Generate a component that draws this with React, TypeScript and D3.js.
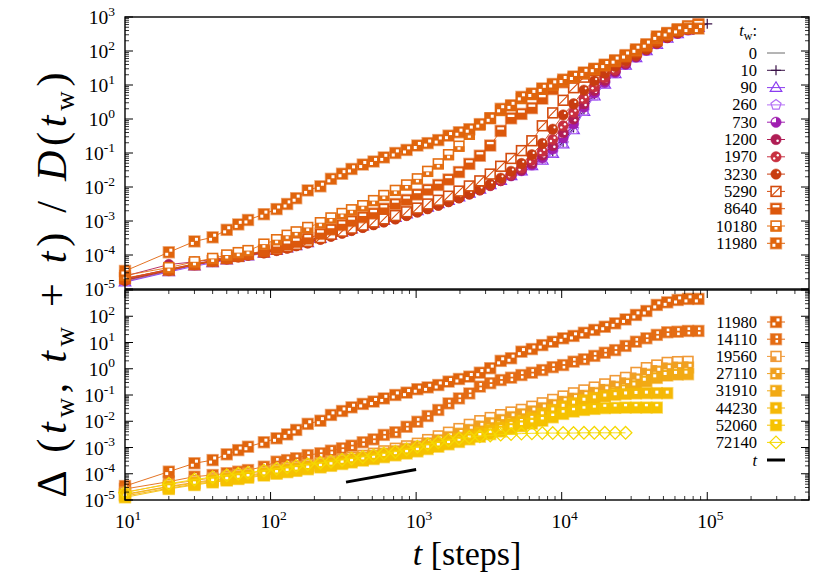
import React from "react";
import * as d3 from "d3";

// ---------- data ----------
const T_STEPS = [10, 20, 30, 40, 50, 60, 70, 90, 110, 130, 150, 180, 220, 260, 310, 360, 430, 510, 600, 720, 860, 1020, 1200, 1420, 1670, 1970, 2320, 2740, 3230, 3810, 4490, 5290, 6240, 7360, 8680, 10230, 12060, 14220, 16760, 19770, 23300, 27470, 32390, 38190, 45030, 53090, 62590, 73790, 87000, 99990];

// log10 of Delta/D, top panel
const LOG_TW0 = [-4.78, -4.48, -4.30, -4.20, -4.12, -4.05, -4.00, -3.92, -3.84, -3.76,
  -3.69, -3.60, -3.47, -3.37, -3.28, -3.20, -3.11, -3.03, -2.95, -2.86,
  -2.76, -2.66, -2.56, -2.46, -2.36, -2.26, -2.15, -2.03, -1.90, -1.77,
  -1.63, -1.49, -1.35, -1.19, -0.98, -0.70, -0.28, 0.26, 0.70, 1.05,
  1.35, 1.60, 1.82, 2.02, 2.21, 2.39, 2.52, 2.62, 2.71, 2.79];
const LOG_TW10 = [-4.74, -4.46, -4.28, -4.19, -4.10, -4.04, -3.99, -3.90, -3.83, -3.75,
  -3.68, -3.59, -3.46, -3.36, -3.27, -3.19, -3.10, -3.02, -2.94, -2.85,
  -2.75, -2.65, -2.55, -2.45, -2.35, -2.25, -2.14, -2.02, -1.89, -1.76,
  -1.62, -1.48, -1.34, -1.17, -0.96, -0.68, -0.25, 0.28, 0.72, 1.06,
  1.36, 1.61, 1.83, 2.03, 2.22, 2.40, 2.53, 2.63, 2.72, 2.80];
const LOG_TW90 = [-4.80, -4.50, -4.33, -4.23, -4.15, -4.08, -4.03, -3.95, -3.87, -3.80,
  -3.73, -3.64, -3.52, -3.42, -3.33, -3.24, -3.15, -3.07, -2.99, -2.90,
  -2.80, -2.70, -2.60, -2.50, -2.40, -2.30, -2.19, -2.07, -1.94, -1.81,
  -1.67, -1.53, -1.38, -1.22, -1.02, -0.74, -0.32, 0.22, 0.67, 1.02,
  1.33, 1.58, 1.80, 2.00, 2.19, 2.37, 2.50, 2.60, 2.69];
const LOG_TW260 = [-4.76, -4.47, -4.31, -4.21, -4.13, -4.06, -4.01, -3.93, -3.85, -3.78,
  -3.71, -3.62, -3.50, -3.40, -3.31, -3.22, -3.13, -3.05, -2.97, -2.88,
  -2.78, -2.68, -2.58, -2.48, -2.38, -2.28, -2.17, -2.05, -1.92, -1.79,
  -1.65, -1.51, -1.36, -1.20, -0.99, -0.71, -0.30, 0.24, 0.69, 1.04,
  1.34, 1.59, 1.81, 2.01, 2.20, 2.38, 2.51, 2.61, 2.70];
const LOG_TW730 = [-4.70, -4.42, -4.27, -4.17, -4.10, -4.03, -3.98, -3.91, -3.84, -3.77,
  -3.70, -3.62, -3.50, -3.41, -3.32, -3.24, -3.15, -3.07, -2.99, -2.90,
  -2.80, -2.70, -2.60, -2.50, -2.40, -2.30, -2.19, -2.07, -1.94, -1.81,
  -1.67, -1.52, -1.35, -1.14, -0.88, -0.55, -0.14, 0.35, 0.76, 1.08,
  1.37, 1.61, 1.82, 2.02, 2.21, 2.39, 2.52, 2.62, 2.70];
const LOG_TW1200 = [-4.62, -4.28, -4.20, -4.13, -4.07, -4.02, -3.97, -3.91, -3.84, -3.78,
  -3.71, -3.63, -3.52, -3.43, -3.34, -3.26, -3.17, -3.09, -3.01, -2.92,
  -2.82, -2.72, -2.62, -2.52, -2.42, -2.31, -2.20, -2.08, -1.95, -1.81,
  -1.66, -1.50, -1.30, -1.06, -0.78, -0.40, 0.00, 0.45, 0.84, 1.14,
  1.41, 1.63, 1.84, 2.04, 2.23, 2.40, 2.53, 2.63, 2.71];
const LOG_TW1970 = [-4.72, -4.44, -4.28, -4.18, -4.11, -4.05, -4.00, -3.93, -3.86, -3.79,
  -3.72, -3.64, -3.53, -3.44, -3.35, -3.27, -3.18, -3.10, -3.02, -2.93,
  -2.83, -2.73, -2.63, -2.53, -2.43, -2.32, -2.21, -2.09, -1.96, -1.81,
  -1.64, -1.44, -1.21, -0.95, -0.60, -0.20, 0.20, 0.60, 0.95, 1.22,
  1.45, 1.66, 1.86, 2.05, 2.24, 2.41, 2.54, 2.64, 2.72];
const LOG_TW3230 = [-4.75, -4.46, -4.29, -4.19, -4.12, -4.06, -4.01, -3.94, -3.87, -3.80,
  -3.73, -3.65, -3.54, -3.45, -3.36, -3.28, -3.19, -3.11, -3.03, -2.94,
  -2.84, -2.74, -2.64, -2.54, -2.43, -2.32, -2.20, -2.07, -1.92, -1.74,
  -1.54, -1.31, -1.05, -0.72, -0.30, 0.12, 0.45, 0.85, 1.12, 1.35,
  1.55, 1.72, 1.89, 2.06, 2.24, 2.41, 2.54, 2.64, 2.73];
const LOG_TW5290 = [-4.70, -4.42, -4.26, -4.16, -4.09, -4.03, -3.98, -3.91, -3.83, -3.76,
  -3.69, -3.60, -3.49, -3.39, -3.30, -3.21, -3.12, -3.03, -2.94, -2.84,
  -2.73, -2.62, -2.50, -2.39, -2.27, -2.12, -1.97, -1.82, -1.62, -1.39,
  -1.16, -0.93, -0.64, -0.20, 0.18, 0.55, 0.92, 1.23, 1.42, 1.56,
  1.69, 1.83, 1.98, 2.13, 2.30, 2.46, 2.59, 2.69, 2.77];
const LOG_TW8640 = [-4.68, -4.44, -4.28, -4.18, -4.10, -4.03, -3.97, -3.88, -3.79, -3.70,
  -3.62, -3.52, -3.38, -3.25, -3.12, -3.00, -2.89, -2.78, -2.64, -2.50,
  -2.38, -2.22, -2.08, -1.94, -1.78, -1.56, -1.32, -1.08, -0.78, -0.35,
  0.02, 0.15, 0.32, 0.60, 0.88, 1.08, 1.21, 1.33, 1.45, 1.57,
  1.70, 1.84, 2.00, 2.15, 2.33, 2.50, 2.63, 2.73, 2.79];
const LOG_TW10180 = [-4.60, -4.37, -4.20, -4.10, -4.00, -3.93, -3.87, -3.68, -3.55, -3.42,
  -3.32, -3.19, -3.05, -2.91, -2.78, -2.67, -2.55, -2.40, -2.25, -2.10,
  -1.94, -1.76, -1.54, -1.32, -1.05, -0.80, -0.45, -0.17, 0.03, 0.25,
  0.40, 0.60, 0.72, 0.88, 1.00, 1.12, 1.23, 1.35, 1.46, 1.58,
  1.71, 1.86, 2.02, 2.18, 2.38, 2.52, 2.64, 2.72, 2.76];
const LOG_TW11980 = [-4.47, -3.92, -3.60, -3.48, -3.26, -3.10, -2.97, -2.80, -2.65, -2.50,
  -2.33, -2.10, -1.98, -1.76, -1.61, -1.47, -1.34, -1.25, -1.13, -1.00,
  -0.91, -0.78, -0.71, -0.62, -0.49, -0.39, -0.30, -0.15, 0.02, 0.30,
  0.40, 0.65, 0.75, 0.90, 1.03, 1.16, 1.25, 1.37, 1.48, 1.60,
  1.73, 1.88, 2.05, 2.20, 2.43, 2.53, 2.62, 2.66, 2.66];

// bottom panel
const LOG_TW14110 = [-4.58, -4.30, -4.11, -4.05, -3.98, -3.92, -3.86, -3.73, -3.54, -3.48,
  -3.41, -3.29, -3.22, -3.12, -3.03, -2.93, -2.80, -2.69, -2.52, -2.42,
  -2.21, -2.02, -1.80, -1.57, -1.32, -1.13, -0.94, -0.68, -0.55, -0.43,
  -0.34, -0.24, -0.15, -0.05, 0.06, 0.14, 0.27, 0.36, 0.49, 0.61,
  0.71, 0.87, 1.03, 1.16, 1.29, 1.39, 1.41, 1.44, 1.44];
const LOG_TW19560 = [-4.70, -4.40, -4.26, -4.16, -4.09, -4.03, -3.98, -3.90, -3.83, -3.77,
  -3.72, -3.65, -3.58, -3.51, -3.44, -3.37, -3.30, -3.22, -3.13, -3.03,
  -2.94, -2.84, -2.70, -2.56, -2.42, -2.28, -2.12, -1.98, -1.86, -1.75,
  -1.65, -1.55, -1.43, -1.30, -1.17, -1.04, -0.92, -0.81, -0.70, -0.58,
  -0.45, -0.33, -0.14, 0.04, 0.14, 0.24, 0.27, 0.28];
const LOG_TW27110 = [-4.78, -4.48, -4.33, -4.23, -4.16, -4.10, -4.05, -3.97, -3.90, -3.84,
  -3.79, -3.72, -3.65, -3.58, -3.51, -3.45, -3.38, -3.31, -3.23, -3.14,
  -3.05, -2.96, -2.84, -2.72, -2.60, -2.47, -2.33, -2.20, -2.07, -1.95,
  -1.84, -1.73, -1.62, -1.50, -1.38, -1.26, -1.14, -1.03, -0.92, -0.81,
  -0.69, -0.57, -0.40, -0.22, -0.10, 0.00, 0.04, 0.05];
const LOG_TW31910 = [-4.85, -4.55, -4.40, -4.30, -4.23, -4.17, -4.12, -4.04, -3.97, -3.91,
  -3.86, -3.79, -3.72, -3.65, -3.58, -3.52, -3.45, -3.38, -3.31, -3.23,
  -3.15, -3.07, -2.97, -2.86, -2.75, -2.63, -2.51, -2.39, -2.27, -2.15,
  -2.04, -1.93, -1.82, -1.71, -1.60, -1.48, -1.36, -1.25, -1.14, -1.03,
  -0.92, -0.81, -0.66, -0.48, -0.35, -0.26, -0.22, -0.21];
const LOG_TW44230 = [-4.80, -4.50, -4.36, -4.26, -4.19, -4.13, -4.08, -4.00, -3.93, -3.87,
  -3.82, -3.76, -3.69, -3.63, -3.56, -3.50, -3.43, -3.37, -3.30, -3.22,
  -3.14, -3.06, -2.97, -2.88, -2.78, -2.68, -2.57, -2.46, -2.35, -2.24,
  -2.12, -2.01, -1.89, -1.72, -1.57, -1.43, -1.31, -1.20, -1.11, -1.04,
  -0.99, -0.96, -0.94, -0.93, -0.93, -0.93];
const LOG_TW52060 = [-4.90, -4.58, -4.43, -4.33, -4.26, -4.20, -4.15, -4.07, -4.00, -3.94,
  -3.89, -3.83, -3.76, -3.70, -3.63, -3.57, -3.50, -3.44, -3.37, -3.30,
  -3.23, -3.15, -3.06, -2.97, -2.88, -2.79, -2.69, -2.59, -2.49, -2.39,
  -2.29, -2.19, -2.09, -1.98, -1.85, -1.72, -1.63, -1.57, -1.53, -1.50,
  -1.49, -1.48, -1.48, -1.48, -1.48];
const LOG_TW72140 = [-4.72, -4.38, -4.22, -4.13, -4.06, -4.00, -3.96, -3.88, -3.81, -3.75,
  -3.70, -3.64, -3.58, -3.53, -3.47, -3.42, -3.36, -3.30, -3.23, -3.16,
  -3.07, -2.97, -2.88, -2.80, -2.72, -2.66, -2.61, -2.57, -2.54, -2.51,
  -2.49, -2.47, -2.46, -2.45, -2.45, -2.45, -2.45, -2.44, -2.44, -2.44,
  -2.44, -2.44];

const REF_T = [330, 1000];
const REF_V = [4.8e-5, 1.45e-4];

const TOP_LABELS = ["0", "10", "90", "260", "730", "1200", "1970", "3230", "5290", "8640", "10180", "11980"];
const TOP_DATA = [LOG_TW0, LOG_TW10, LOG_TW90, LOG_TW260, LOG_TW730, LOG_TW1200, LOG_TW1970, LOG_TW3230, LOG_TW5290, LOG_TW8640, LOG_TW10180, LOG_TW11980];
const BOT_LABELS = ["11980", "14110", "19560", "27110", "31910", "44230", "52060", "72140"];
const BOT_DATA = [LOG_TW11980, LOG_TW14110, LOG_TW19560, LOG_TW27110, LOG_TW31910, LOG_TW44230, LOG_TW52060, LOG_TW72140];

const X_TICK_EXP = [1, 2, 3, 4, 5];
const Y_TICK_EXP_TOP = [3, 2, 1, 0, -1, -2, -3, -4, -5];
const Y_TICK_EXP_BOT = [2, 1, 0, -1, -2, -3, -4, -5];

// ---------- styles ----------
const TOP_STYLE = [
  { c: "#6a6a6a", m: "none" },
  { c: "#3a1248", m: "plus" },
  { c: "#8a3cf0", m: "tri" },
  { c: "#b46ef5", m: "pent" },
  { c: "#a01eb0", m: "circA" },
  { c: "#b01e55", m: "circB" },
  { c: "#c83040", m: "circC" },
  { c: "#c83c10", m: "circD" },
  { c: "#d44c0e", m: "sqLine" },
  { c: "#dc580c", m: "sqBar" },
  { c: "#e46e12", m: "sqHalf" },
  { c: "#e0640c", m: "sqDots" },
];
const BOT_STYLE = [
  { c: "#e0640c", m: "sqDots" },
  { c: "#e46c14", m: "sqV" },
  { c: "#f09a38", m: "sqCorner" },
  { c: "#f0a020", m: "sqDots" },
  { c: "#f2aa14", m: "sqD1" },
  { c: "#f5b806", m: "sqD2" },
  { c: "#f6c200", m: "sqD3" },
  { c: "#f5d800", m: "diam" },
];

const FONT = "Liberation Serif, Times New Roman, Tinos, serif";

function Mark({ k, x, y, c }: { k: string; x: number; y: number; c: string }) {
  const s = 5.4;
  const sqBase = (fill: string) => (
    <rect x={x - s} y={y - s} width={2 * s} height={2 * s} fill={fill} stroke={c} strokeOpacity={0.55} strokeWidth={1.6} />
  );
  const sqOpen = () => (
    <rect x={x - s + 0.5} y={y - s + 0.5} width={2 * s - 1} height={2 * s - 1} fill="#fff" stroke={c} strokeWidth={1.6} />
  );
  const wr = (dx: number, dy: number, w: number, h: number) => (
    <rect x={x + dx} y={y + dy} width={w} height={h} fill="#fff" />
  );
  const r = 5.2;
  switch (k) {
    case "none":
      return null;
    case "plus":
      return <path d={`M${x - 5},${y}H${x + 5}M${x},${y - 5}V${y + 5}`} stroke={c} strokeWidth={1.2} />;
    case "tri": {
      const h = 5.8;
      return <path d={`M${x},${y - h}L${x + h},${y + h * 0.65}L${x - h},${y + h * 0.65}Z`} fill="none" stroke={c} strokeWidth={1.2} />;
    }
    case "pent": {
      const pts = d3.range(5).map((i) => {
        const a = -Math.PI / 2 + (i * 2 * Math.PI) / 5;
        return [x + 5.3 * Math.cos(a), y + 5.3 * Math.sin(a)];
      });
      return <path d={"M" + pts.map((p) => p.join(",")).join("L") + "Z"} fill="none" stroke={c} strokeWidth={1.2} />;
    }
    case "circA":
      return (
        <g>
          <circle cx={x} cy={y} r={r} fill={c} stroke={c} strokeOpacity={0.5} strokeWidth={1} />
          <path d={`M${x},${y}L${x - r + 1},${y}A${r - 1},${r - 1} 0 0 1 ${x},${y - r + 1}Z`} fill="#fff" />
        </g>
      );
    case "circB":
      return (
        <g>
          <circle cx={x} cy={y} r={r} fill={c} stroke={c} strokeOpacity={0.5} strokeWidth={1} />
          <circle cx={x + 1.6} cy={y + 1.2} r={1.3} fill="#fff" />
        </g>
      );
    case "circC":
      return (
        <g>
          <circle cx={x} cy={y} r={r} fill={c} stroke={c} strokeOpacity={0.5} strokeWidth={1} />
          <circle cx={x + 1.8} cy={y - 1.6} r={1.2} fill="#fff" />
          <circle cx={x - 1.8} cy={y + 1.6} r={1.2} fill="#fff" />
        </g>
      );
    case "circD":
      return (
        <g>
          <circle cx={x} cy={y} r={r} fill={c} stroke={c} strokeOpacity={0.5} strokeWidth={1} />
          <circle cx={x + 1.8} cy={y - 1.8} r={1.1} fill="#fff" />
        </g>
      );
    case "sqDots":
      return (
        <g>
          {sqBase(c)}
          {wr(0.5, -3.6, 3, 3)}
          {wr(-3.6, 0.5, 3, 3)}
        </g>
      );
    case "sqBar":
      return (
        <g>
          {sqBase(c)}
          {wr(-3.4, -3.6, 6.8, 2.3)}
        </g>
      );
    case "sqHalf":
      return (
        <g>
          {sqOpen()}
          <rect x={x - s} y={y} width={2 * s} height={s} fill={c} />
          {wr(-1.5, 1, 3, 2.5)}
        </g>
      );
    case "sqLine":
      return (
        <g>
          {sqOpen()}
          <path d={`M${x - s + 1},${y + s - 1}L${x + s - 1},${y - s + 1}`} stroke={c} strokeWidth={1.1} />
        </g>
      );
    case "sqV":
      return (
        <g>
          {sqBase(c)}
          {wr(-0.5, -3.6, 2.6, 2.6)}
          {wr(-0.5, 0.8, 2.6, 2.6)}
        </g>
      );
    case "sqCorner":
      return (
        <g>
          {sqOpen()}
          <rect x={x - s + 0.5} y={y} width={s} height={s - 0.5} fill={c} />
        </g>
      );
    case "sqD1":
      return (
        <g>
          {sqBase(c)}
          {wr(-3.6, -3.6, 3, 3)}
        </g>
      );
    case "sqD2":
      return (
        <g>
          {sqBase(c)}
          {wr(-1.5, -2.5, 3, 3)}
        </g>
      );
    case "sqD3":
      return (
        <g>
          {sqBase(c)}
          {wr(-1.5, -3.7, 3, 2.4)}
        </g>
      );
    case "diam": {
      const d = 6.3;
      return <path d={`M${x},${y - d}L${x + d},${y}L${x},${y + d}L${x - d},${y}Z`} fill="none" stroke={c} strokeWidth={1.3} />;
    }
    default:
      return null;
  }
}

type Pt = { t: number; v: number };

function toPts(logs: number[]): Pt[] {
  return logs.map((e, i) => ({ t: T_STEPS[i], v: Math.pow(10, e) }));
}

function Series({ logs, c, m, x, y }: { logs: number[]; c: string; m: string; x: any; y: any }) {
  const pts = toPts(logs);
  const line = d3.line<Pt>().x((d) => x(d.t)).y((d) => y(d.v));
  return (
    <g>
      <path d={line(pts) || ""} fill="none" stroke={c} strokeWidth={1} strokeOpacity={0.9} />
      {pts.map((p, i) => (
        <Mark key={i} k={m} x={x(p.t)} y={y(p.v)} c={c} />
      ))}
    </g>
  );
}

function Pow10({ x, y, e, anchor }: { x: number; y: number; e: number; anchor: string }) {
  return (
    <text x={x} y={y} textAnchor={anchor} style={{ fontFamily: FONT }} fontSize={19.5} fill="#000">
      10
      <tspan fontSize={13.5} dy={-8.5}>
        {String(e)}
      </tspan>
    </text>
  );
}

export default function App() {
  const L = 125, R = 809;
  const x = d3.scaleLog().domain([10, 5e5]).range([L, R]);
  const yTop = d3.scaleLog().domain([1e-5, 1e3]).range([289, 17]);
  const yBot = d3.scaleLog().domain([1e-5, 1e3]).range([500, 290]);

  const yTickEls = (y: any, key: string) => {
    const els: any[] = [];
    for (let e = -5; e <= 3; e++) {
      const yy = y(Math.pow(10, e));
      els.push(<line key={key + "M" + e} x1={L} x2={L + 8} y1={yy} y2={yy} stroke="#000" strokeWidth={1} />);
      els.push(<line key={key + "MR" + e} x1={R - 8} x2={R} y1={yy} y2={yy} stroke="#000" strokeWidth={1} />);
      if (e < 3) {
        for (let m = 2; m <= 9; m++) {
          const ym = y(m * Math.pow(10, e));
          els.push(<line key={key + "m" + e + "_" + m} x1={L} x2={L + 4} y1={ym} y2={ym} stroke="#000" strokeWidth={0.8} />);
          els.push(<line key={key + "mR" + e + "_" + m} x1={R - 4} x2={R} y1={ym} y2={ym} stroke="#000" strokeWidth={0.8} />);
        }
      }
    }
    return els;
  };

  const xTickEls: any[] = [];
  for (let e = 1; e <= 5; e++) {
    const xx = x(Math.pow(10, e));
    xTickEls.push(<line key={"xM" + e} x1={xx} x2={xx} y1={500} y2={492} stroke="#000" strokeWidth={1} />);
    xTickEls.push(<line key={"xMt" + e} x1={xx} x2={xx} y1={290} y2={298} stroke="#000" strokeWidth={1} />);
    for (let m = 2; m <= 9; m++) {
      const v = m * Math.pow(10, e);
      if (v > 5e5) break;
      const xm = x(v);
      xTickEls.push(<line key={"xm" + e + m} x1={xm} x2={xm} y1={500} y2={496} stroke="#000" strokeWidth={0.8} />);
      xTickEls.push(<line key={"xmt" + e + m} x1={xm} x2={xm} y1={290} y2={294} stroke="#000" strokeWidth={0.8} />);
    }
  }

  const refLine = d3.line<number>().x((d, i) => x(REF_T[i])).y((d) => yBot(d));

  const legX = 757, sx1 = 767, sx2 = 785, smx = 776;
  const txt = { fontFamily: FONT };
  const LEG_FS = 16.5;

  return (
    <svg width={830} height={581} style={{ position: "absolute", left: 0, top: 0, background: "#fff", fontFamily: FONT }}>
      <rect width={830} height={581} fill="#fff" />

      {TOP_DATA.map((logs, i) => (
        <Series key={"t" + i} logs={logs} c={TOP_STYLE[i].c} m={TOP_STYLE[i].m} x={x} y={yTop} />
      ))}

      {BOT_DATA.map((logs, i) => (
        <Series key={"b" + i} logs={logs} c={BOT_STYLE[i].c} m={BOT_STYLE[i].m} x={x} y={yBot} />
      ))}
      <path d={refLine(REF_V) || ""} stroke="#000" strokeWidth={3} fill="none" />

      <rect x={L} y={17} width={R - L} height={272} fill="none" stroke="#000" strokeWidth={1.4} />
      <rect x={L} y={290} width={R - L} height={210} fill="none" stroke="#000" strokeWidth={1.4} />
      {yTickEls(yTop, "top")}
      {yTickEls(yBot, "bot")}
      {xTickEls}

      {Y_TICK_EXP_TOP.map((e) => (
        <Pow10 key={"ylt" + e} x={115} y={yTop(Math.pow(10, e)) + 7} e={e} anchor="end" />
      ))}
      {Y_TICK_EXP_BOT.map((e) => (
        <Pow10 key={"ylb" + e} x={115} y={yBot(Math.pow(10, e)) + 7} e={e} anchor="end" />
      ))}
      {X_TICK_EXP.map((e) => (
        <Pow10 key={"xl" + e} x={x(Math.pow(10, e)) + 3} y={528} e={e} anchor="middle" />
      ))}

      <text x={467} y={565} textAnchor="middle" fontSize={34} fill="#000" style={txt}>
        <tspan fontStyle="italic">t</tspan> [steps]
      </text>
      <text transform="translate(66,285) rotate(-90)" textAnchor="middle" fontSize={42} fill="#000" style={txt} textLength={425} lengthAdjust="spacing">
        Δ (<tspan fontStyle="italic">t</tspan>
        <tspan fontSize={27} dy={8}>w</tspan>
        <tspan dy={-8}>, </tspan>
        <tspan fontStyle="italic">t</tspan>
        <tspan fontSize={27} dy={8}>w</tspan>
        <tspan dy={-8}> + </tspan>
        <tspan fontStyle="italic">t</tspan>) / <tspan fontStyle="italic">D</tspan>(<tspan fontStyle="italic">t</tspan>
        <tspan fontSize={27} dy={8}>w</tspan>
        <tspan dy={-8}>)</tspan>
      </text>

      <text x={legX} y={36} textAnchor="end" fontSize={LEG_FS} fill="#000" style={txt}>
        <tspan fontStyle="italic">t</tspan>
        <tspan fontSize={12} dy={3.5}>w</tspan>
        <tspan dy={-3.5}>:</tspan>
      </text>
      {TOP_LABELS.map((lab, i) => {
        const yy = 53 + 17.3 * i;
        return (
          <g key={"lt" + i}>
            <text x={legX} y={yy + 5.5} textAnchor="end" fontSize={LEG_FS} fill="#000" style={txt}>{lab}</text>
            <line x1={sx1} x2={sx2} y1={yy} y2={yy} stroke={TOP_STYLE[i].c} strokeWidth={1} />
            <Mark k={TOP_STYLE[i].m} x={smx} y={yy} c={TOP_STYLE[i].c} />
          </g>
        );
      })}

      {BOT_LABELS.map((lab, i) => {
        const yy = 322 + 17.2 * i;
        return (
          <g key={"lb" + i}>
            <text x={legX} y={yy + 5.5} textAnchor="end" fontSize={LEG_FS} fill="#000" style={txt}>{lab}</text>
            <line x1={sx1} x2={sx2} y1={yy} y2={yy} stroke={BOT_STYLE[i].c} strokeWidth={1} />
            <Mark k={BOT_STYLE[i].m} x={smx} y={yy} c={BOT_STYLE[i].c} />
          </g>
        );
      })}
      <text x={legX} y={460 + 5.5} textAnchor="end" fontSize={LEG_FS} fill="#000" fontStyle="italic" style={txt}>t</text>
      <line x1={sx1} x2={sx2} y1={460} y2={460} stroke="#000" strokeWidth={3} />
    </svg>
  );
}
